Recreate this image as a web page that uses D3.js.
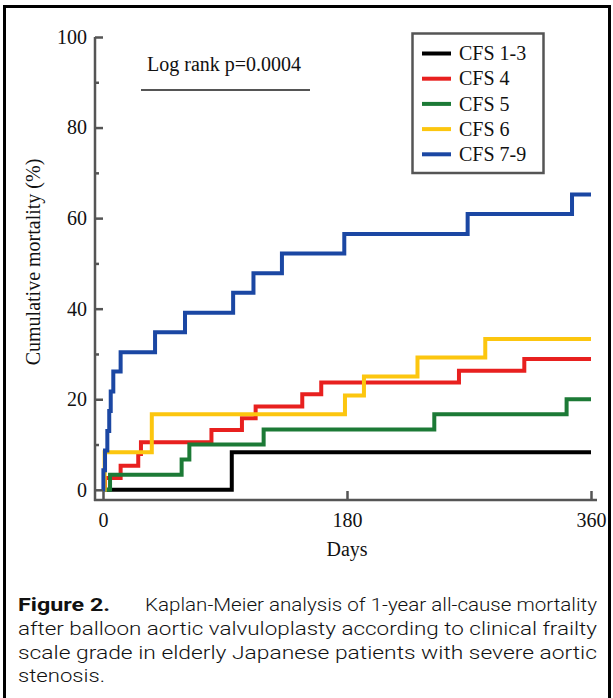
<!DOCTYPE html>
<html lang="en">
<head>
<meta charset="UTF-8">
<title>Kaplan-Meier CFS</title>
<script src="https://d3js.org/d3.v7.min.js"></script>
<style>
  body { margin: 0; background: #fff; }
  svg { display: block; }
  .serif { font-family: "Liberation Serif", "Times New Roman", serif; }
  .cap { font-family: Roboto, "Liberation Sans", Arial, sans-serif; }
</style>
</head>
<body>
<svg id="chart" width="613" height="698"></svg>
<script>
// series labels and colours
var seriesNames = ["CFS 1-3", "CFS 4", "CFS 5", "CFS 6", "CFS 7-9"];
var seriesColors = ["#000000", "#e8201f", "#1c7a36", "#fcc60f", "#1b47a3"];

// step curves: day of event and cumulative mortality (%)
var cfs13Days = [0, 95, 360];
var cfs13Vals = [0, 8.3, 8.3];
var cfs4Days = [0, 1.5, 13, 26, 28, 80, 102.5, 112.6, 147, 161, 262.6, 310.8, 360];
var cfs4Vals = [0, 2.6, 5.3, 7.9, 10.5, 13.2, 15.8, 18.4, 21.1, 23.7, 26.3, 28.9, 28.9];
var cfs5Days = [0, 5.2, 58, 63.7, 118.5, 244.4, 342, 360];
var cfs5Vals = [0, 3.3, 6.7, 10.0, 13.3, 16.7, 20.0, 20.0];
var cfs6Days = [0, 1.2, 36, 178.5, 192.5, 232, 282, 360];
var cfs6Vals = [0, 8.3, 16.7, 20.8, 25.0, 29.2, 33.3, 33.3];
var cfs79Days = [0, 0.3, 1.5, 3.2, 4.6, 5.7, 7.6, 13, 38.4, 60.5, 96, 111, 132, 178, 269, 346, 360];
var cfs79Vals = [0, 4.3, 8.7, 13.0, 17.4, 21.7, 26.1, 30.4, 34.8, 39.1, 43.5, 47.8, 52.2, 56.5, 60.9, 65.2, 65.2];

var xTicks = [0, 180, 360];
var yTicks = [0, 20, 40, 60, 80, 100];
var yMinorTicks = [10, 30, 50, 70, 90];

var captionLines = [
  "after balloon aortic valvuloplasty according to clinical frailty",
  "scale grade in elderly Japanese patients with severe aortic",
  "stenosis."
];

var svg = d3.select("#chart");
var axisColor = "#555";

// frame round the figure
svg.append("rect")
  .attr("x", 4.5).attr("y", 6.5)
  .attr("width", 605).attr("height", 760)
  .attr("fill", "none").attr("stroke", "#000").attr("stroke-width", 3);

var x = d3.scaleLinear().domain([0, 360]).range([103, 591]);
var y = d3.scaleLinear().domain([0, 100]).range([489.8, 37]);
var axisX = 95, axisY = 500;

// y axis, major and minor ticks in separate groups
svg.append("g")
  .attr("class", "serif")
  .attr("transform", "translate(" + axisX + ",0)")
  .call(d3.axisLeft(y).tickValues(yTicks).tickSizeInner(-8).tickSizeOuter(0).tickPadding(8));
svg.append("g")
  .attr("transform", "translate(" + axisX + ",0)")
  .call(d3.axisLeft(y).tickValues(yMinorTicks).tickSizeInner(-4).tickSizeOuter(0).tickFormat(""));

// x axis
svg.append("g")
  .attr("class", "serif")
  .attr("transform", "translate(0," + axisY + ")")
  .call(d3.axisBottom(x).tickValues(xTicks).tickSizeInner(-9).tickSizeOuter(0).tickPadding(13));

svg.selectAll(".domain").remove();
svg.selectAll(".tick line").attr("stroke", axisColor).attr("stroke-width", 2.5);
svg.selectAll(".tick text").attr("font-size", 20).attr("fill", "#111");

svg.append("line")
  .attr("x1", axisX).attr("x2", axisX).attr("y1", y(100)).attr("y2", axisY + 1)
  .attr("stroke", axisColor).attr("stroke-width", 2.5);
svg.append("line")
  .attr("x1", axisX - 1).attr("x2", 597).attr("y1", axisY).attr("y2", axisY)
  .attr("stroke", axisColor).attr("stroke-width", 2.5);

// axis titles
svg.append("text").attr("class", "serif")
  .attr("x", (x(0) + x(360)) / 2).attr("y", 556)
  .attr("text-anchor", "middle").attr("font-size", 20).attr("fill", "#111")
  .text("Days");
svg.append("text").attr("class", "serif")
  .attr("transform", "translate(40,262) rotate(-90)")
  .attr("text-anchor", "middle").attr("font-size", 20).attr("fill", "#111")
  .text("Cumulative mortality (%)");

// log rank note
svg.append("text").attr("class", "serif")
  .attr("x", 147).attr("y", 71).attr("font-size", 20).attr("fill", "#111")
  .text("Log rank p=0.0004");
svg.append("line")
  .attr("x1", 141).attr("x2", 310).attr("y1", 90).attr("y2", 90)
  .attr("stroke", axisColor).attr("stroke-width", 2);

// curves
var series = [
  d3.zip(cfs13Days, cfs13Vals),
  d3.zip(cfs4Days, cfs4Vals),
  d3.zip(cfs5Days, cfs5Vals),
  d3.zip(cfs6Days, cfs6Vals),
  d3.zip(cfs79Days, cfs79Vals)
];
var stepLine = d3.line()
  .x(function(d) { return x(d[0]); })
  .y(function(d) { return y(d[1]); })
  .curve(d3.curveStepAfter);

svg.append("g").selectAll("path")
  .data(series)
  .join("path")
  .attr("d", stepLine)
  .attr("fill", "none")
  .attr("stroke", function(d, i) { return seriesColors[i]; })
  .attr("stroke-width", 4)
  .attr("stroke-linejoin", "miter")
  .attr("stroke-linecap", "butt");

// legend
var legend = svg.append("g").attr("class", "serif");
legend.append("rect")
  .attr("x", 412.5).attr("y", 33.5).attr("width", 131).attr("height", 139.5)
  .attr("fill", "#fff").attr("stroke", axisColor).attr("stroke-width", 2.5);
var rows = legend.selectAll("g.row")
  .data(seriesNames)
  .join("g")
  .attr("class", "row")
  .attr("transform", function(d, i) { return "translate(0," + (53.5 + i * 25.2) + ")"; });
rows.append("line")
  .attr("x1", 422).attr("x2", 451)
  .attr("stroke", function(d, i) { return seriesColors[i]; })
  .attr("stroke-width", 4);
rows.append("text")
  .attr("x", 459).attr("dy", "0.33em")
  .attr("font-size", 20).attr("fill", "#111")
  .text(function(d) { return d; });

// caption
var cap = svg.append("g").attr("class", "cap").attr("font-size", 19).attr("fill", "#111");
cap.append("text")
  .attr("x", 18).attr("y", 611)
  .attr("font-weight", "bold")
  .attr("textLength", 92).attr("lengthAdjust", "spacingAndGlyphs")
  .text("Figure 2.");
cap.append("text")
  .attr("x", 145).attr("y", 611)
  .attr("font-weight", 300)
  .attr("textLength", 452).attr("lengthAdjust", "spacingAndGlyphs")
  .text("Kaplan-Meier analysis of 1-year all-cause mortality");
cap.selectAll("text.line")
  .data(captionLines)
  .join("text")
  .attr("class", "line")
  .attr("x", 18)
  .attr("y", function(d, i) { return 635 + i * 23.5; })
  .attr("font-weight", 300)
  .attr("textLength", function(d, i) { return i < 2 ? 579 : 87; })
  .attr("lengthAdjust", "spacingAndGlyphs")
  .text(function(d) { return d; });
</script>
</body>
</html>
